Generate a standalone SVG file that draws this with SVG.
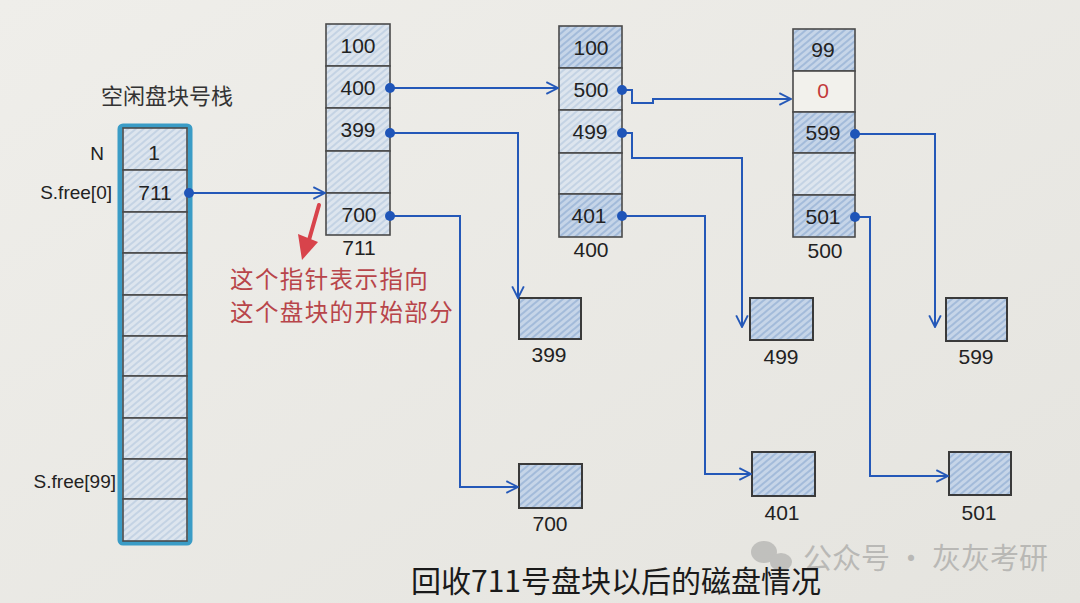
<svg xmlns="http://www.w3.org/2000/svg" width="1080" height="603" viewBox="0 0 1080 603">
<defs>
<linearGradient id="bg" x1="0" y1="0" x2="1" y2="1">
<stop offset="0" stop-color="#efeeea"/>
<stop offset="1" stop-color="#e5e4df"/>
</linearGradient>
<pattern id="hl" width="5" height="5" patternUnits="userSpaceOnUse" patternTransform="rotate(-40)">
<rect width="5" height="5" fill="#dde5ee"/>
<line x1="0" y1="1" x2="5" y2="1" stroke="#b4c7de" stroke-width="1.2"/>
</pattern>
<pattern id="hd" width="5" height="5" patternUnits="userSpaceOnUse" patternTransform="rotate(-40)">
<rect width="5" height="5" fill="#c6d5e8"/>
<line x1="0" y1="1" x2="5" y2="1" stroke="#94b0d4" stroke-width="1.4"/>
</pattern>
<marker id="ah" viewBox="0 0 12 12" refX="11" refY="6" markerWidth="14" markerHeight="14" markerUnits="userSpaceOnUse" orient="auto">
<path d="M1,1 L11,6 L1,11" fill="none" stroke="#2458b8" stroke-width="1.6"/>
</marker>
<style>
.cl{fill:url(#hl);stroke:#4a4a4a;stroke-width:1.6}
.cd{fill:url(#hd);stroke:#4a4a4a;stroke-width:1.6}
.cw{fill:#f2f1ec;stroke:#4a4a4a;stroke-width:1.6}
.bx{fill:url(#hd);stroke:#3a3a3a;stroke-width:2}
.n{font-family:"Liberation Sans","DejaVu Sans",sans-serif;font-size:21px;fill:#222;text-anchor:middle}
.lb{font-family:"Liberation Sans","DejaVu Sans",sans-serif;font-size:19px;fill:#222}
.zh{font-family:"Noto Sans CJK SC","Noto Sans",sans-serif}
.cn{fill:none;stroke:#2458b8;stroke-width:2;marker-end:url(#ah)}
.dot{fill:#1f55b8}
</style>
</defs>
<rect width="1080" height="603" fill="url(#bg)"/>

<g id="stack">
<text class="zh" x="167" y="104" font-size="22" fill="#333" text-anchor="middle">空闲盘块号栈</text>
<rect x="120" y="126" width="70" height="417" rx="3" fill="none" stroke="#3a9cc6" stroke-width="5"/>
<rect class="cl" x="123" y="128" width="64" height="42"/>
<rect class="cl" x="123" y="170" width="64" height="42"/>
<rect class="cl" x="123" y="212" width="64" height="41"/>
<rect class="cl" x="123" y="253" width="64" height="42"/>
<rect class="cl" x="123" y="295" width="64" height="41"/>
<rect class="cl" x="123" y="336" width="64" height="40"/>
<rect class="cl" x="123" y="376" width="64" height="42"/>
<rect class="cl" x="123" y="418" width="64" height="41"/>
<rect class="cl" x="123" y="459" width="64" height="40"/>
<rect class="cl" x="123" y="499" width="64" height="42"/>
<text class="n" x="154" y="160">1</text>
<text class="n" x="155" y="200">711</text>
<text class="lb" x="104" y="160" text-anchor="end">N</text>
<text class="lb" x="112" y="199" text-anchor="end">S.free[0]</text>
<text class="lb" x="116" y="488" text-anchor="end">S.free[99]</text>
</g>

<g id="block711">
<rect class="cl" x="326" y="24" width="64" height="42"/>
<rect class="cl" x="326" y="66" width="64" height="42"/>
<rect class="cl" x="326" y="108" width="64" height="43"/>
<rect class="cl" x="326" y="151" width="64" height="42"/>
<rect class="cl" x="326" y="193" width="64" height="42"/>
<text class="n" x="358" y="53">100</text>
<text class="n" x="358" y="95">400</text>
<text class="n" x="358" y="137">399</text>
<text class="n" x="359" y="222">700</text>
<text class="n" x="359" y="255">711</text>
</g>

<g id="block400">
<rect class="cd" x="559" y="26" width="63" height="42"/>
<rect class="cl" x="559" y="68" width="63" height="42"/>
<rect class="cl" x="559" y="110" width="63" height="43"/>
<rect class="cl" x="559" y="153" width="63" height="41"/>
<rect class="cd" x="559" y="194" width="63" height="43"/>
<text class="n" x="591" y="55">100</text>
<text class="n" x="591" y="97">500</text>
<text class="n" x="590" y="139">499</text>
<text class="n" x="589" y="223">401</text>
<text class="n" x="591" y="257">400</text>
</g>

<g id="block500">
<rect class="cd" x="793" y="29" width="62" height="42"/>
<rect class="cw" x="793" y="71" width="62" height="41"/>
<rect class="cd" x="793" y="112" width="62" height="41"/>
<rect class="cl" x="793" y="153" width="62" height="42"/>
<rect class="cd" x="793" y="195" width="62" height="42"/>
<text class="n" x="823" y="57">99</text>
<text class="n" x="823" y="98" style="fill:#c23a3a">0</text>
<text class="n" x="823" y="140">599</text>
<text class="n" x="823" y="224">501</text>
<text class="n" x="825" y="258">500</text>
</g>

<g id="box399"><rect class="bx" x="519" y="298" width="62" height="41"/><text class="n" x="549" y="362">399</text></g>
<g id="box700"><rect class="bx" x="519" y="464" width="63" height="44"/><text class="n" x="550" y="531">700</text></g>
<g id="box499"><rect class="bx" x="750" y="298" width="63" height="42"/><text class="n" x="781" y="364">499</text></g>
<g id="box401"><rect class="bx" x="752" y="452" width="63" height="44"/><text class="n" x="782" y="520">401</text></g>
<g id="box599"><rect class="bx" x="946" y="298" width="61" height="43"/><text class="n" x="976" y="364">599</text></g>
<g id="box501"><rect class="bx" x="949" y="452" width="62" height="43"/><text class="n" x="979" y="520">501</text></g>

<g id="connectors">
<path class="cn" d="M189,193 H325"/>
<path class="cn" d="M390,88 H558"/>
<path class="cn" d="M390,133 H518 V298"/>
<path class="cn" d="M390,216 H460 V487 H518"/>
<path class="cn" d="M622,90 H632 V103 H653 V99 H791"/>
<path class="cn" d="M622,133 H632 V158 H742 V327"/>
<path class="cn" d="M622,216 H705 V474 H751"/>
<path class="cn" d="M855,134 H935 V327"/>
<path class="cn" d="M855,217 H870 V476 H948"/>
<circle class="dot" cx="189" cy="193" r="5"/>
<circle class="dot" cx="390" cy="88" r="5"/>
<circle class="dot" cx="390" cy="133" r="5"/>
<circle class="dot" cx="390" cy="216" r="5"/>
<circle class="dot" cx="622" cy="90" r="5"/>
<circle class="dot" cx="622" cy="133" r="5"/>
<circle class="dot" cx="622" cy="216" r="5"/>
<circle class="dot" cx="855" cy="134" r="5"/>
<circle class="dot" cx="855" cy="217" r="5"/>
</g>

<g id="note">
<path d="M319,205 L309,240" stroke="#d8434b" stroke-width="4" stroke-linecap="round" fill="none"/>
<path d="M298,234 L318,242 L302,260 Z" fill="#d8434b"/>
<text class="zh" x="230" y="288" font-size="23.5" letter-spacing="1.4" fill="#b8454a">这个指针表示指向</text>
<text class="zh" x="230" y="321" font-size="23.5" letter-spacing="1.4" fill="#b8454a">这个盘块的开始部分</text>
</g>

<g id="watermark" opacity="0.4">
<ellipse cx="764" cy="552" rx="13" ry="11" fill="#888"/>
<ellipse cx="781" cy="562" rx="11" ry="9" fill="#888"/>
<text class="zh" x="803" y="569" font-size="29" fill="#777">公众号 · 灰灰考研</text>
</g>

<g id="caption">
<text class="zh" x="411" y="592" font-size="30" fill="#1a1a1a">回收711号盘块以后的磁盘情况</text>
</g>
</svg>
